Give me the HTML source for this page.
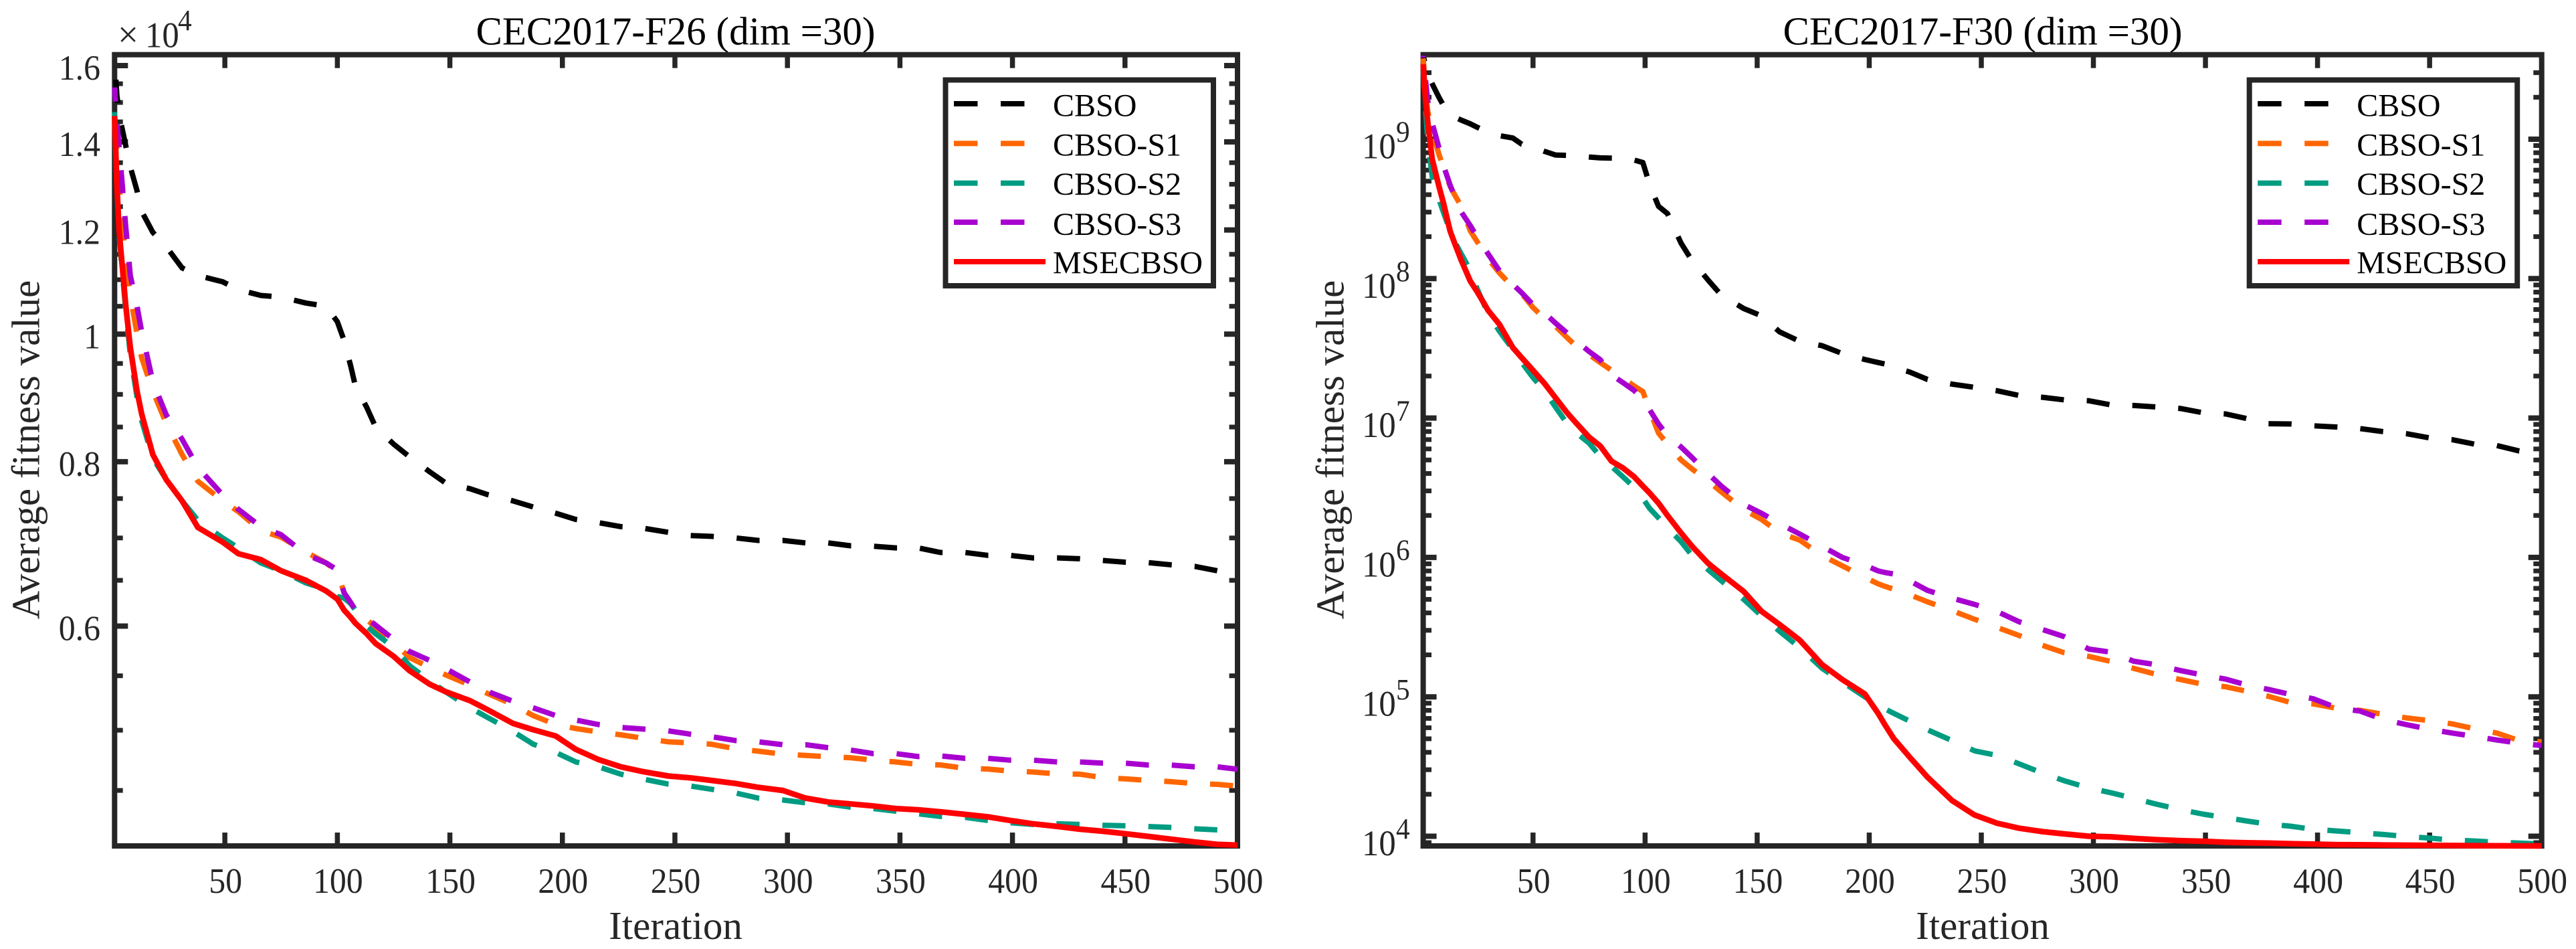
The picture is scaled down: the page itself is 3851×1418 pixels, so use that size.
<!DOCTYPE html>
<html lang="en">
<head>
<meta charset="utf-8">
<title>CEC2017 convergence curves</title>
<style>
html,body{margin:0;padding:0;background:#fff;width:3851px;height:1418px;overflow:hidden}
svg{display:block}
text{font-family:"Liberation Serif","Times New Roman",serif}
</style>
</head>
<body>
<svg id="figure" xmlns="http://www.w3.org/2000/svg" width="3851" height="1418" viewBox="0 0 3851 1418"></svg>
<script>
// ---------- shared ----------
const seriesNames = ['CBSO', 'CBSO-S1', 'CBSO-S2', 'CBSO-S3', 'MSECBSO'];
const xTickValues = [50, 100, 150, 200, 250, 300, 350, 400, 450, 500];

// ---------- left chart: CEC2017-F26 (values in units of 10^4) ----------
const itersF26 = [1,2,3,6,8,11,13,18,24,31, 38,49,56,66,75,86,95,100,103,106,
  108,113,117,125,132,141,148,159,167,178, 187,197,206,216,226,236,247,257,266,277,
  287,298,308,318,328,338,348,358,368,379, 389,399,409,420,430,440,450,460,470,481, 491,500];
const f26Cbso = [1.62,1.52,1.47,1.39,1.34,1.285,1.24,1.195,1.165,1.123, 1.108,1.096,1.081,1.07,1.067,1.056,1.05,1.022,.989,.945,
  .913,.88,.85,.825,.807,.786,.771,.763,.755,.747, .739,.731,.723,.719,.714,.712,.707,.703,.702,.7,
  .697,.697,.694,.694,.6905,.69,.688,.688,.6825,.6825, .679,.679,.676,.676,.675,.673,.671,.6705,.668,.666, .661,.656];
const f26S1 = [1.48,1.38,1.3,1.14,1.07,1.0,.96,.905,.855,.81, .773,.747,.733,.709,.701,.683,.67,.66,.636,.624,
  .617,.607,.599,.583,.568,.558,.551,.541,.533,.523, .513,.505,.5015,.4985,.496,.493,.49,.489,.488,.484,
  .482,.4795,.4785,.4773,.4765,.4745,.473,.471,.4705,.4677, .4672,.4655,.4648,.4632,.463,.4602,.4592,.458,.457,.4555, .4548,.4535];
const f26S2 = [1.475,1.31,1.19,1.04,.965,.895,.86,.805,.775,.747, .722,.7,.688,.67,.661,.647,.64,.632,.63,.624,
  .617,.6,.592,.578,.56,.545,.535,.52,.511,.499, .488,.481,.473,.469,.463,.459,.455,.4535,.451,.448,
  .444,.4425,.4404,.4395,.437,.436,.434,.432,.43,.4293, .427,.4253,.424,.4245,.424,.4234,.423,.4225,.4218,.4208, .42,.4195];
const f26S3 = [1.54,1.45,1.39,1.205,1.108,1.05,1.005,.92,.868,.832, .792,.755,.736,.714,.704,.68,.67,.662,.636,.625,
  .617,.608,.601,.586,.574,.565,.557,.544,.535,.526, .52,.513,.509,.505,.5025,.501,.4995,.4965,.4945,.491,
  .49,.4875,.4875,.485,.483,.48,.48,.4775,.478,.476, .476,.4745,.4745,.473,.473,.472,.472,.4705,.4705,.469, .469,.467];
const f26Msecbso = [1.465,1.3,1.2,1.05,.977,.905,.87,.81,.775,.747, .713,.695,.681,.674,.661,.65,.638,.629,.617,.609,
  .603,.592,.582,.569,.555,.542,.535,.5265,.518,.506, .5005,.495,.4835,.475,.469,.465,.4615,.46,.458,.4555,
  .4525,.45,.444,.441,.4395,.438,.436,.435,.4335,.4315, .4297,.427,.4245,.4225,.4205,.419,.4172,.4153,.4133,.4112, .4095,.409];
const f26MajorTicks = [0.6, 0.8, 1, 1.2, 1.4, 1.6];
const f26MajorLabels = ['0.6', '0.8', '1', '1.2', '1.4', '1.6'];
const f26MinorTicks = [0.45,0.5,0.55,0.65,0.7,0.75,0.85,0.9,0.95,1.05,1.1,1.15,1.25,1.3,1.35,1.45,1.5,1.55];
const f26LastDashEnd = [491, 498, 491, 481];

// ---------- right chart: CEC2017-F30 ----------
const itersF30 = [1,2,3,5,8,10,13,15,18,22, 25,30,35,41,45,50,55,60,65,69, 75,80,85,90,95,99,102,106,110,116,
  121,128,134,144,152,160,169,179,188,198, 204,207,211,218,226,237,247,257,267,277, 287,298,308,318,328,339,349,359,368,378,
  388,398,409,419,429,440,450,460,470,480, 490,500];
const f30Cbso = [4e9,3.4e9,2.95e9,2.5e9,2e9,1.75e9,1.49e9,1.44e9,1.37e9,1.29e9, 1.22e9,1.12e9,1.06e9,1.02e9,9.2e8,8.8e8,8.2e8,7.7e8,7.65e8,7.6e8,
  7.45e8,7.35e8,7.32e8,7.3e8,7.1e8,6.8e8,4.75e8,3.3e8,2.93e8,1.8e8, 1.34e8,9.8e7,7.6e7,6.1e7,5.4e7,4.15e7,3.55e7,3.3e7,2.9e7,2.63e7,
  2.5e7,2.44e7,2.3e7,2.14e7,1.89e7,1.75e7,1.66e7,1.57e7,1.45e7,1.41e7, 1.35e7,1.33e7,1.24e7,1.23e7,1.2e7,1.17e7,1.09e7,1.07e7,9.95e6,9.1e6,
  9.06e6,8.8e6,8.6e6,8.4e6,8e6,7.7e6,7.2e6,7e6,6.5e6,6.35e6, 5.8e6,5.5e6];
const f30S1 = [3.8e9,2.3e9,1.6e9,1.15e9,7.8e8,6.3e8,4.6e8,4e8,3.3e8,2.2e8, 1.85e8,1.38e8,1.1e8,8.7e7,7.8e7,6.2e7,5.2e7,4.55e7,3.8e7,3.3e7,
  2.85e7,2.5e7,2.2e7,1.95e7,1.7e7,1.55e7,1.14e7,7.8e6,6.5e6,5e6, 4.3e6,3.55e6,2.95e6,2.2e6,1.87e6,1.5e6,1.33e6,1.03e6,8.7e5,7.2e5,
  6.46e5,6.2e5,5.9e5,5.4e5,4.8e5,4.15e5,3.6e5,3.15e5,2.75e5,2.35e5, 2.07e5,1.95e5,1.79e5,1.6e5,1.45e5,1.33e5,1.23e5,1.18e5,1.1e5,1.01e5,
  9.1e4,8.9e4,8.25e4,8e4,7.5e4,7.05e4,6.75e4,6.4e4,5.9e4,5.5e4, 4.85e4,4.75e4];
const f30S2 = [3.2e9,1.7e9,1e9,5.4e8,3.7e8,3e8,2.2e8,1.85e8,1.5e8,1.15e8, 8.5e7,5.6e7,4.2e7,3.1e7,2.5e7,1.95e7,1.58e7,1.2e7,9.2e6,7.9e6,
  6.6e6,5.3e6,4.5e6,3.8e6,3.2e6,2.65e6,2.25e6,1.92e6,1.63e6,1.3e6, 1.03e6,8.2e5,6.8e5,5e5,3.8e5,2.95e5,2.25e5,1.6e5,1.28e5,1e5,
  8.8e4,8.2e4,7.6e4,6.7e4,5.8e4,4.85e4,4.1e4,3.8e4,3.3e4,2.85e4, 2.5e4,2.22e4,2.05e4,1.87e4,1.7e4,1.55e4,1.44e4,1.36e4,1.29e4,1.22e4,
  1.18e4,1.12e4,1.09e4,1.06e4,1.03e4,9.95e3,9.7e3,9.38e3,9.25e3,9.05e3, 8.93e3,8.8e3];
const f30S3 = [3.98e9,2.7e9,1.9e9,1.31e9,8.7e8,6.5e8,4.7e8,3.9e8,3e8,2.4e8, 2e8,1.5e8,1.14e8,9.1e7,7.9e7,6.5e7,5.7e7,4.8e7,4.1e7,3.6e7,
  3e7,2.62e7,2.04e7,1.8e7,1.58e7,1.36e7,1.15e7,9.06e6,7.5e6,6.2e6, 5.2e6,4e6,3.25e6,2.4e6,2.07e6,1.75e6,1.47e6,1.2e6,1e6,8.8e5,
  8e5,7.8e5,7.6e5,6.8e5,5.8e5,5.1e5,4.6e5,4.1e5,3.45e5,3.05e5, 2.7e5,2.2e5,2.09e5,1.8e5,1.7e5,1.54e5,1.43e5,1.34e5,1.22e5,1.13e5,
  1.04e5,9.7e4,8.3e4,7.9e4,6.9e4,6.3e4,5.85e4,5.5e4,5.2e4,4.9e4, 4.65e4,4.47e4];
const f30Msecbso = [3.45e9,1.96e9,1.35e9,7.2e8,4.6e8,3.5e8,2.2e8,1.8e8,1.35e8,9.6e7, 8.1e7,5.9e7,4.7e7,3.2e7,2.7e7,2.2e7,1.78e7,1.4e7,1.1e7,9.3e6,
  7.3e6,6.3e6,4.9e6,4.4e6,3.8e6,3.25e6,2.9e6,2.45e6,2e6,1.5e6, 1.2e6,9.1e5,7.6e5,5.7e5,4.1e5,3.3e5,2.55e5,1.7e5,1.33e5,1.05e5,
  7.6e4,6.3e4,5e4,3.7e4,2.65e4,1.8e4,1.42e4,1.24e4,1.14e4,1.08e4, 1.04e4,1e4,9.9e3,9.65e3,9.45e3,9.3e3,9.2e3,9.05e3,8.98e3,8.92e3,
  8.85e3,8.78e3,8.7e3,8.68e3,8.65e3,8.62e3,8.6e3,8.58e3,8.56e3,8.55e3, 8.53e3,8.52e3];
const f30MajorExponents = [4, 5, 6, 7, 8, 9];
const f30MinorTicks = [9e3,2e4,3e4,4e4,5e4,6e4,7e4,8e4,9e4,2e5,3e5,4e5,5e5,6e5,7e5,8e5,9e5,
  2e6,3e6,4e6,5e6,6e6,7e6,8e6,9e6,2e7,3e7,4e7,5e7,6e7,7e7,8e7,9e7,2e8,3e8,4e8,5e8,6e8,7e8,8e8,9e8,2e9,3e9];
const f30LastDashEnd = [490, 488, 476, 486];

// ---------- drawing ----------
const SVGNS = 'http://www.w3.org/2000/svg';
const INK = '#262626';
const seriesColors = ['#000000', '#ff6600', '#009c82', '#a800d0', '#ff0000'];
const DASH = 34.5, GAP = 34.2;
const svg = document.getElementById('figure');

function make(parent, tag, attrs, txt) {
  const el = document.createElementNS(SVGNS, tag);
  for (const k in attrs) el.setAttribute(k, attrs[k]);
  if (txt !== undefined) el.textContent = txt;
  parent.appendChild(el);
  return el;
}
function label(parent, x, y, str, size, anchor, fill, sx) {
  return make(parent, 'text', {
    transform: 'translate(' + x + ',' + y + ') scale(' + (sx || 1) + ',1)',
    'font-size': size, 'text-anchor': anchor, fill: fill
  }, str);
}
// offset that makes a dash finish at the given iteration
function dashOffsetFor(cfg, vals, endIter) {
  let len = 0;
  for (let k = 1; k < vals.length; k++) {
    const x0 = cfg.x(cfg.iters[k - 1]), y0 = cfg.y(vals[k - 1]);
    if (cfg.iters[k - 1] >= endIter) break;
    const seg = Math.hypot(cfg.x(cfg.iters[k]) - x0, cfg.y(vals[k]) - y0);
    const f = Math.min(1, (endIter - cfg.iters[k - 1]) / (cfg.iters[k] - cfg.iters[k - 1]));
    len += seg * f;
  }
  const period = DASH + GAP;
  return (((DASH - len) % period) + period) % period;
}

function drawChart(cfg) {
  const g = make(svg, 'g', {});
  
  
  const L = cfg.left, R = cfg.right, T = 81.7, B = 1264;

  const title = label(g, cfg.titleX, 66.6, cfg.title, 59, 'middle', '#000');
  
  

  const xt = label(g, cfg.titleX, 1403, 'Iteration', 59, 'middle', INK);
  
  

  const yt = make(g, 'text', {
    transform: 'translate(' + cfg.yTitleX + ',672) rotate(-90)',
    'font-size': 59, 'text-anchor': 'middle', fill: INK
  }, 'Average fitness value');
  
  

  // x ticks (top and bottom) with labels
  xTickValues.forEach(function (v) {
    const x = cfg.x(v);
    const t1 = make(g, 'line', { x1: x, x2: x, y1: B, y2: B - 20, stroke: INK, 'stroke-width': 7.5 });
    
    
    const t2 = make(g, 'line', { x1: x, x2: x, y1: T, y2: T + 20, stroke: INK, 'stroke-width': 7.5 });
    
    
    const tl = label(g, x + 1, 1334, String(v), 53, 'middle', INK, 0.94);
    
    
  });

  // y ticks on both sides
  function yTick(v, len, w, kind) {
    const y = cfg.y(v);
    const a = make(g, 'line', { x1: L, x2: L + len, y1: y, y2: y, stroke: INK, 'stroke-width': w });
    
    
    const b = make(g, 'line', { x1: R, x2: R - len, y1: y, y2: y, stroke: INK, 'stroke-width': w });
    
    
  }
  cfg.minor.forEach(function (v) { yTick(v, 12.4, 7, 'minor'); });
  cfg.major.forEach(function (v) { yTick(v, 20, 8, 'major'); });
  cfg.yLabels(g);

  // frame
  const frame = make(g, 'rect', { x: L, y: T, width: R - L, height: B - T, fill: 'none', stroke: INK, 'stroke-width': 8 });
  
  

  // series
  cfg.series.forEach(function (vals, i) {
    const d = vals.map(function (v, k) {
      return (k ? 'L' : 'M') + cfg.x(cfg.iters[k]).toFixed(1) + ' ' + cfg.y(v).toFixed(1);
    }).join(' ');
    const p = make(g, 'path', {
      d: d, fill: 'none', stroke: seriesColors[i], 'stroke-width': i === 4 ? 8.5 : 8,
      'stroke-linejoin': 'round'
    });
    if (i < 4) {
      p.setAttribute('stroke-dasharray', DASH + ' ' + GAP);
      p.setAttribute('stroke-dashoffset', dashOffsetFor(cfg, vals, cfg.lastDashEnd[i]).toFixed(1));
    }
    
    
  });

  // legend
  const lg = make(g, 'g', {});
  
  
  const lx = cfg.legendX;
  const box = make(lg, 'rect', { x: lx, y: 119.5, width: 400.5, height: 307.5, fill: '#fff', stroke: INK, 'stroke-width': 8 });
  
  
  const rowLine = [155, 214.4, 273.6, 332, 391];
  const rowText = [173.5, 232.3, 291, 350.8, 408.6];
  seriesNames.forEach(function (n, i) {
    const ln = make(lg, 'line', {
      x1: lx + 12.5, x2: lx + 149.5, y1: rowLine[i], y2: rowLine[i],
      stroke: seriesColors[i], 'stroke-width': 8, 'stroke-dasharray': i === 4 ? 'none' : '35.5 34.5'
    });
    
    
    const tx = label(lg, lx + 160.5, rowText[i], n, 48, 'start', '#000');
    
    
  });
}

drawChart({
  name: 'chart-f26', title: 'CEC2017-F26 (dim =30)', titleX: 1010, yTitleX: 58.7,
  left: 171.3, right: 1850, legendX: 1413.5,
  x: function (i) { return 171.3 + (i - 1) * (1850 - 171.3) / 499; },
  y: function (v) { return 98 + 1966 * Math.log10(1.6 / v); },
  iters: itersF26,
  series: [f26Cbso, f26S1, f26S2, f26S3, f26Msecbso],
  lastDashEnd: f26LastDashEnd,
  major: f26MajorTicks, minor: f26MinorTicks,
  yLabels: function (g) {
    const self = this;
    f26MajorTicks.forEach(function (v, i) {
      const t = label(g, 150, self.y(v) + 21, f26MajorLabels[i], 53, 'end', INK, 0.94);
      
      
    });
    const m1 = label(g, 176, 70, '\u00d7', 55, 'start', INK);
    
    
    const m2 = label(g, 217, 70.5, '10', 54, 'start', INK, 0.94);
    
    
    const m3 = label(g, 266, 45, '4', 44, 'start', INK, 0.94);
    
    
  }
});

drawChart({
  name: 'chart-f30', title: 'CEC2017-F30 (dim =30)', titleX: 2964, yTitleX: 2008.7,
  left: 2127.6, right: 3799.7, legendX: 3362.7,
  x: function (i) { return 2127.6 + (i - 1) * (3799.7 - 2127.6) / 499; },
  y: function (v) { return 208 + 208.3 * (9 - Math.log10(v)); },
  iters: itersF30,
  series: [f30Cbso, f30S1, f30S2, f30S3, f30Msecbso],
  lastDashEnd: f30LastDashEnd,
  major: f30MajorExponents.map(function (e) { return Math.pow(10, e); }),
  minor: f30MinorTicks,
  yLabels: function (g) {
    const self = this;
    f30MajorExponents.forEach(function (e) {
      const y = self.y(Math.pow(10, e));
      const t = label(g, 2036, y + 28.5, '10', 54, 'start', INK, 0.94);
      
      
      const s = label(g, 2087, y + 3.7, String(e), 44, 'start', INK, 0.94);
      
      
    });
  }
});
</script>
</body>
</html>
